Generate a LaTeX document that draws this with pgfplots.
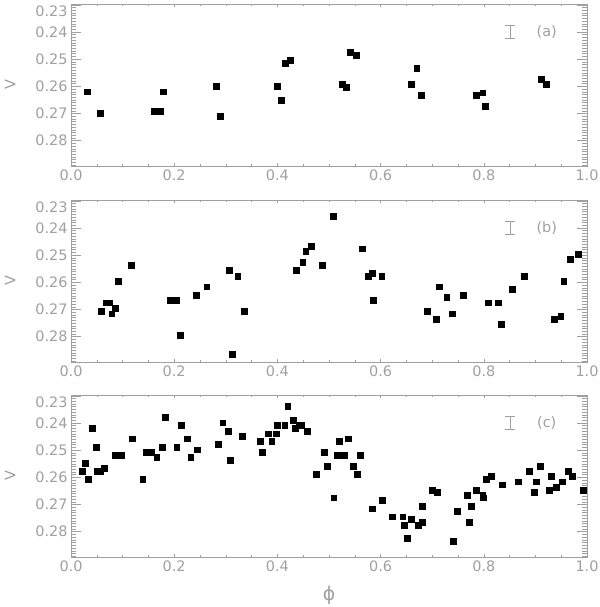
\documentclass[border=0pt]{standalone}
\usepackage{pgfplots}
\pgfplotsset{compat=1.18}
\usepackage{fontspec}
\setmainfont{DejaVu Sans}
\definecolor{axgray}{HTML}{A0A0A0}
\newcommand{\lblfont}{\fontsize{14.5}{17}\selectfont}

\pgfplotsset{
  panel/.style={
    scale only axis, width=516bp, height=162bp,
    xmin=0, xmax=1, ymin=0.2297, ymax=0.2893, y dir=reverse,
    axis line style={axgray, line width=0.6pt},
    every tick/.style={axgray, line width=0.5pt},
    xtick={0,0.2,0.4,0.6,0.8,1.0}, minor x tick num=3,
    ytick={0.24,0.25,0.26,0.27,0.28},
    minor ytick={0.230,0.231,...,0.2891},
    extra y ticks={0.23},
    extra y tick style={yticklabel style={yshift=-6bp}},
    x tick style={/pgfplots/major tick length=3.2bp, /pgfplots/minor tick length=1.6bp},
    y tick style={/pgfplots/major tick length=10bp, /pgfplots/minor tick length=5bp},
    tick label style={font=\lblfont, text=axgray},
    /pgf/number format/assume math mode=true,
    xticklabel style={/pgf/number format/fixed, /pgf/number format/fixed zerofill, /pgf/number format/precision=1},
    yticklabel style={/pgf/number format/fixed, /pgf/number format/fixed zerofill, /pgf/number format/precision=2},
    scaled x ticks=false, scaled y ticks=false,
    ylabel={V},
    every axis y label/.style={at={(axis description cs:-0.118,0.5)}, rotate=90, anchor=center,
      font=\lblfont, text=axgray},
  },
  pts/.style={only marks, mark=square*, mark size=2.9bp, color=black},
  ebar/.style={axgray, mark=none, line width=0.6pt, forget plot,
    error bars/.cd, y dir=both, y explicit,
    error bar style={axgray, line width=0.6pt},
    error mark options={axgray, rotate=90, mark size=5bp, line width=0.6pt}},
}

\begin{document}
\begin{tikzpicture}
\useasboundingbox (0,0) rectangle (600bp,607bp);

% (a)
\begin{axis}[panel, at={(71bp,441bp)}, anchor=south west]
\addplot[pts] coordinates {(0.031,0.262) (0.057,0.270) (0.162,0.269) (0.174,0.269) (0.179,0.262)
  (0.282,0.260) (0.289,0.271) (0.400,0.260) (0.408,0.265) (0.415,0.2514) (0.425,0.2504)
  (0.526,0.2593) (0.534,0.2602) (0.541,0.2474) (0.552,0.2484) (0.659,0.2593) (0.670,0.2533)
  (0.679,0.2633) (0.786,0.2633) (0.798,0.2623) (0.803,0.2673) (0.912,0.2573) (0.921,0.2593)};
\addplot[ebar] coordinates {(0.851,0.2399) +- (0,0.0023)};
\node[text=axgray, font=\lblfont] at (axis cs:0.922,0.2399) {(a)};
\end{axis}

% (b)
\begin{axis}[panel, at={(71bp,245bp)}, anchor=south west]
\addplot[pts] coordinates {(0.059,0.2705) (0.068,0.2675) (0.074,0.2675) (0.079,0.2715) (0.085,0.2696)
  (0.092,0.2596) (0.116,0.2536) (0.193,0.2665) (0.205,0.2665) (0.212,0.2794) (0.242,0.2646)
  (0.263,0.2616) (0.306,0.2556) (0.312,0.2864) (0.323,0.2576) (0.335,0.2705) (0.437,0.2556)
  (0.449,0.2526) (0.455,0.2486) (0.466,0.2467) (0.487,0.2536) (0.508,0.2358) (0.564,0.2476)
  (0.576,0.2576) (0.583,0.2566) (0.586,0.2665) (0.602,0.2576) (0.690,0.2705) (0.708,0.2735)
  (0.714,0.2616) (0.728,0.2656) (0.739,0.2715) (0.760,0.2646) (0.809,0.2675) (0.828,0.2675)
  (0.834,0.2754) (0.855,0.2625) (0.879,0.2576) (0.937,0.2735) (0.949,0.2725) (0.955,0.2596)
  (0.967,0.2516) (0.983,0.2497)};
\addplot[ebar] coordinates {(0.851,0.2400) +- (0,0.0024)};
\node[text=axgray, font=\lblfont] at (axis cs:0.922,0.2400) {(b)};
\end{axis}

% (c)
\begin{axis}[panel, at={(71bp,50bp)}, anchor=south west,
  xlabel={ϕ},
  every axis x label/.style={at={(axis description cs:0.5,-0.235)}, anchor=center, text=axgray,
    font=\fontsize{19}{21}\selectfont}]
\addplot[pts] coordinates {(0.022,0.2577) (0.027,0.2547) (0.034,0.2606) (0.041,0.2419) (0.049,0.2488)
  (0.051,0.2577) (0.057,0.2577) (0.065,0.2567) (0.085,0.2518) (0.097,0.2518) (0.119,0.2458)
  (0.139,0.2606) (0.146,0.2508) (0.155,0.2508) (0.166,0.2527) (0.177,0.2488) (0.182,0.2378)
  (0.205,0.2488) (0.214,0.2408) (0.225,0.2458) (0.232,0.2527) (0.244,0.2498) (0.286,0.2478)
  (0.294,0.2399) (0.304,0.2429) (0.308,0.2537) (0.332,0.2448) (0.366,0.2468) (0.370,0.2508)
  (0.382,0.2439) (0.389,0.2468) (0.397,0.2439) (0.399,0.2408) (0.414,0.2408) (0.420,0.2339)
  (0.430,0.2389) (0.434,0.2419) (0.443,0.2408) (0.447,0.2408) (0.457,0.2429) (0.475,0.2587)
  (0.491,0.2508) (0.496,0.2558) (0.509,0.2675) (0.516,0.2518) (0.519,0.2468) (0.529,0.2518)
  (0.537,0.2458) (0.547,0.2558) (0.555,0.2587) (0.561,0.2518) (0.584,0.2715) (0.603,0.2685)
  (0.623,0.2745) (0.643,0.2745) (0.645,0.2775) (0.652,0.2824) (0.659,0.2755) (0.673,0.2775)
  (0.680,0.2765) (0.681,0.2705) (0.700,0.2646) (0.710,0.2656) (0.740,0.2834) (0.748,0.2725)
  (0.768,0.2665) (0.772,0.2765) (0.776,0.2705) (0.786,0.2646) (0.798,0.2665) (0.799,0.2675)
  (0.804,0.2606) (0.814,0.2596) (0.836,0.2627) (0.866,0.2616) (0.888,0.2577) (0.898,0.2656)
  (0.902,0.2616) (0.909,0.2558) (0.926,0.2646) (0.930,0.2596) (0.940,0.2636) (0.952,0.2616)
  (0.963,0.2577) (0.971,0.2596) (0.993,0.2646)};
\addplot[ebar] coordinates {(0.851,0.2401) +- (0,0.0024)};
\node[text=axgray, font=\lblfont] at (axis cs:0.922,0.2401) {(c)};
\end{axis}
\end{tikzpicture}
\end{document}
